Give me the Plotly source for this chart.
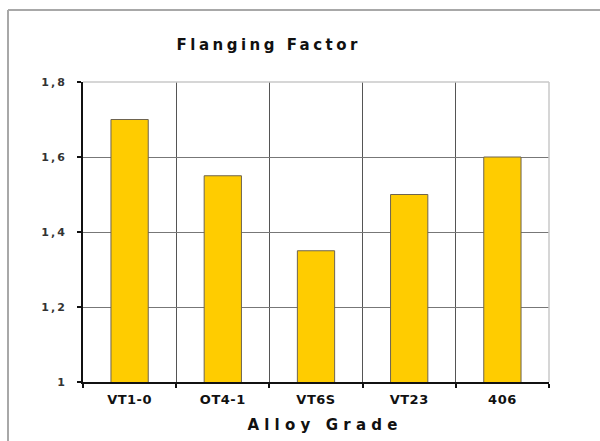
import plotly.graph_objects as go

# Flanging factor by titanium alloy grade
alloy_grades = ["VT1-0", "OT4-1", "VT6S", "VT23", "406"]
flanging_factor = [1.70, 1.55, 1.35, 1.50, 1.60]
y_ticks = [1.0, 1.2, 1.4, 1.6, 1.8]

W, H = 600, 441
L, R, T, B = 83, 51, 82, 59
pw, ph = W - L - R, H - T - B

HEAVY = "DejaVu Sans, Liberation Sans, Arial, sans-serif"
TITLE_SP, XTITLE_SP = 3.5, 5.2


def px_x(x):
    return (x - L) / pw


def px_y(y):
    return (H - B - y) / ph


fig = go.Figure(
    go.Bar(
        x=alloy_grades,
        y=flanging_factor,
        width=0.4,
        marker=dict(color="#FFCC00", line=dict(color="#6e6450", width=1)),
        hoverinfo="x+y",
    )
)

fig.update_layout(
    width=W,
    height=H,
    margin=dict(l=L, r=R, t=T, b=B),
    paper_bgcolor="white",
    plot_bgcolor="white",
    separators=", ",
    showlegend=False,
    font=dict(family=HEAVY, color="#111"),
    title=dict(
        text="Flanging Factor",
        x=(267 + TITLE_SP / 2) / W,
        xanchor="center",
        xref="container",
        y=1 - 45 / H,
        yref="container",
        yanchor="middle",
        font=dict(family=HEAVY, size=15, color="#111", weight="bold"),
    ),
    xaxis=dict(
        type="category",
        tickson="boundaries",
        ticks="outside",
        ticklen=4,
        tickwidth=1.5,
        tickcolor="#111",
        showline=True,
        linecolor="#111",
        linewidth=2,
        showgrid=True,
        gridcolor="#555",
        gridwidth=1,
        tickfont=dict(family=HEAVY, size=13, color="#111", weight="bold"),
        ticklabelstandoff=4,
        range=[-0.5, 4.5],
        fixedrange=True,
    ),
    yaxis=dict(
        range=[1.0, 1.8],
        tickvals=y_ticks,
        tickformat=".1~f",
        ticks="outside",
        ticklen=4,
        tickwidth=1.5,
        tickcolor="#111",
        showline=True,
        linecolor="#111",
        linewidth=2,
        showgrid=True,
        gridcolor="#777",
        gridwidth=1,
        zeroline=False,
        tickfont=dict(family=HEAVY, size=11, color="#333", weight="bold"),
        ticklabelstandoff=8,
        fixedrange=True,
    ),
    annotations=[
        # x-axis caption
        dict(
            text="Alloy Grade",
            xref="paper", yref="paper",
            x=px_x(322 + XTITLE_SP / 2), y=px_y(425),
            xanchor="center", yanchor="middle",
            showarrow=False,
            font=dict(family=HEAVY, size=15, color="#111", weight="bold"),
        )
    ],
    shapes=[
        # light frame on the top and right of the plotting area
        dict(type="line", xref="paper", yref="paper", x0=0, x1=1, y0=1, y1=1,
             line=dict(color="#c8c8c8", width=1.5), layer="above"),
        dict(type="line", xref="paper", yref="paper", x0=1, x1=1, y0=0, y1=1,
             line=dict(color="#c8c8c8", width=1.5), layer="above"),
        # outer chart border (top and left edges)
        dict(type="line", xref="paper", yref="paper",
             x0=px_x(8), x1=px_x(W + 5), y0=px_y(10), y1=px_y(10),
             line=dict(color="#a8a8a8", width=2), layer="above"),
        dict(type="line", xref="paper", yref="paper",
             x0=px_x(8), x1=px_x(8), y0=px_y(10), y1=px_y(H + 5),
             line=dict(color="#a8a8a8", width=2), layer="above"),
    ],
)

# widen the letter spacing of the titles and tick labels
spacing_js = """
var gd = document.getElementById('{plot_id}');
function widen() {
  gd.querySelectorAll('.gtitle').forEach(function (e) { e.style.letterSpacing = '%spx'; });
  gd.querySelectorAll('.annotation-text').forEach(function (e) { e.style.letterSpacing = '%spx'; });
  gd.querySelectorAll('.xtick text').forEach(function (e) { e.style.letterSpacing = '0.5px'; });
  gd.querySelectorAll('.ytick text').forEach(function (e) { e.style.letterSpacing = '2px'; });
}
widen();
gd.on('plotly_afterplot', widen);
""" % (TITLE_SP, XTITLE_SP)

fig.write_html("out.html", post_script=spacing_js, config={"displayModeBar": False})
